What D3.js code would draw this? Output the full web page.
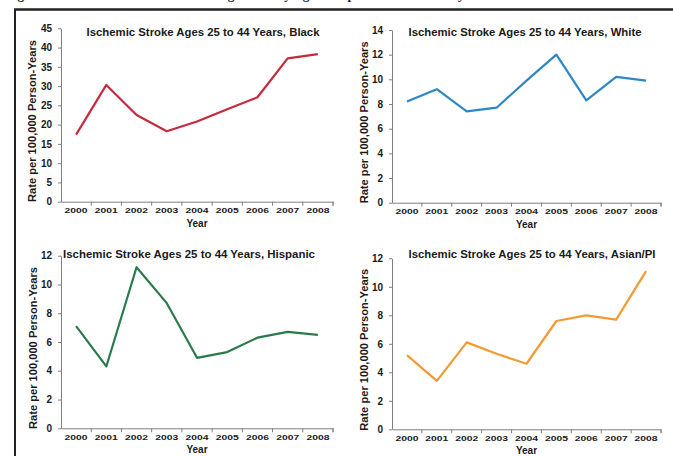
<!DOCTYPE html>
<html>
<head>
<meta charset="utf-8">
<script src="https://cdn.jsdelivr.net/npm/d3@7"></script>
<style>
  body { margin: 0; background: #fff; }
  svg { display: block; font-family: "Liberation Sans", Arial, sans-serif; }
  .axis path, .axis line { stroke: #808080; }
  .axis text { font-weight: bold; fill: #1a1a1a; }
  .panel-title { font-weight: bold; font-size: 10px; fill: #1a1a1a; }
  .axis-title { font-weight: bold; font-size: 10px; fill: #1a1a1a; }
</style>
</head>
<body>
<svg id="chart" width="673" height="456"></svg>
<script>
const years = ['2000', '2001', '2002', '2003', '2004', '2005', '2006', '2007', '2008'];

const black = [17.4, 30.3, 22.5, 18.3, 20.8, 24.0, 27.1, 37.2, 38.3];
const white = [8.2, 9.2, 7.4, 7.7, 9.9, 12.0, 8.3, 10.2, 9.9];
const hispanic = [7.1, 4.3, 11.2, 8.7, 4.9, 5.3, 6.3, 6.7, 6.5];
const asianPI = [5.2, 3.4, 6.1, 5.3, 4.6, 7.6, 8.0, 7.7, 11.1];

const yMax = [45, 14, 12, 12];
const yStep = [5, 2, 2, 2];
const titles = [
  'Ischemic Stroke Ages 25 to 44 Years, Black',
  'Ischemic Stroke Ages 25 to 44 Years, White',
  'Ischemic Stroke Ages 25 to 44 Years, Hispanic',
  'Ischemic Stroke Ages 25 to 44 Years, Asian/PI'
];
const colors = ['#c62a3d', '#2f86c6', '#2a7a4c', '#f39a33'];

const svg = d3.select('#chart');

// caption of the scan, mostly cut off by the top edge
svg.append('text')
  .attr('x', 6)
  .attr('y', -1)
  .attr('font-size', 13)
  .attr('font-family', '"Liberation Serif", serif')
  .attr('font-weight', 'bold')
  .attr('fill', '#222')
  .text('Figure 2. Ischemic Stroke Rates in Young Adults by Age Group and Race/Ethnicity');

// frame
svg.append('line')
  .attr('x1', 14).attr('x2', 673)
  .attr('y1', 9.5).attr('y2', 9.5)
  .attr('stroke', '#222').attr('stroke-width', 2.5);
svg.append('line')
  .attr('x1', 15).attr('x2', 15)
  .attr('y1', 9).attr('y2', 456)
  .attr('stroke', '#222').attr('stroke-width', 2);

const panels = [
  { data: black, x0: 61, x1: 333, yTop: 28.3, yBot: 201.7, yTitleX: 32, titleX: 203, titleY: 36, titleW: 233 },
  { data: white, x0: 392, x1: 661, yTop: 30, yBot: 202.7, yTitleX: 364, titleX: 525, titleY: 36, titleW: 233 },
  { data: hispanic, x0: 61, x1: 333, yTop: 255.7, yBot: 428.3, yTitleX: 33, titleX: 189, titleY: 258, titleW: 252 },
  { data: asianPI, x0: 392, x1: 661, yTop: 258.3, yBot: 429.3, yTitleX: 364, titleX: 532, titleY: 258, titleW: 247 }
];

panels.forEach((p, i) => {
  const g = svg.append('g');

  const x = d3.scaleBand()
    .domain(years)
    .range([p.x0, p.x1])
    .padding(0);

  const y = d3.scaleLinear()
    .domain([0, yMax[i]])
    .range([p.yBot, p.yTop]);

  // y axis
  g.append('g')
    .attr('class', 'axis')
    .attr('transform', `translate(${p.x0},0)`)
    .call(d3.axisLeft(y)
      .tickValues(d3.range(0, yMax[i] + 0.001, yStep[i]))
      .tickSize(3)
      .tickSizeOuter(0)
      .tickPadding(6))
    .call(a => a.selectAll('text').attr('font-size', 10));

  // x axis with labels centred in each band
  const xa = g.append('g')
    .attr('class', 'axis')
    .attr('transform', `translate(0,${p.yBot})`)
    .call(d3.axisBottom(x).tickSize(0).tickSizeOuter(0).tickPadding(6));
  xa.selectAll('text')
    .attr('font-size', 8)
    .attr('textLength', 23)
    .attr('lengthAdjust', 'spacingAndGlyphs');

  // tick marks at band boundaries
  xa.selectAll('.bound')
    .data(years.slice(1).concat(['end']))
    .join('line')
    .attr('class', 'bound')
    .attr('x1', d => d === 'end' ? p.x1 : x(d))
    .attr('x2', d => d === 'end' ? p.x1 : x(d))
    .attr('y1', 0)
    .attr('y2', 4)
    .attr('stroke', d => d === 'end' ? '#111' : '#808080')
    .attr('stroke-width', d => d === 'end' ? 1.5 : 1);

  // axis titles
  g.append('text')
    .attr('class', 'axis-title')
    .attr('x', (p.x0 + p.x1) / 2)
    .attr('y', p.yBot + 25)
    .attr('text-anchor', 'middle')
    .text('Year');

  g.append('text')
    .attr('class', 'axis-title')
    .attr('transform', `translate(${p.yTitleX},${(p.yTop + p.yBot) / 2 + 6}) rotate(-90)`)
    .attr('text-anchor', 'middle')
    .attr('dy', '0.35em')
    .attr('textLength', 162)
    .attr('lengthAdjust', 'spacingAndGlyphs')
    .text('Rate per 100,000 Person-Years');

  // panel title
  g.append('text')
    .attr('class', 'panel-title')
    .attr('x', p.titleX)
    .attr('y', p.titleY)
    .attr('text-anchor', 'middle')
    .attr('textLength', p.titleW)
    .attr('lengthAdjust', 'spacingAndGlyphs')
    .text(titles[i]);

  // the line
  const line = d3.line()
    .x((d, j) => x(years[j]) + x.bandwidth() / 2)
    .y(d => y(d));

  g.append('path')
    .datum(p.data)
    .attr('fill', 'none')
    .attr('stroke', colors[i])
    .attr('stroke-width', 2.2)
    .attr('stroke-linejoin', 'round')
    .attr('d', line);
});
</script>
</body>
</html>
